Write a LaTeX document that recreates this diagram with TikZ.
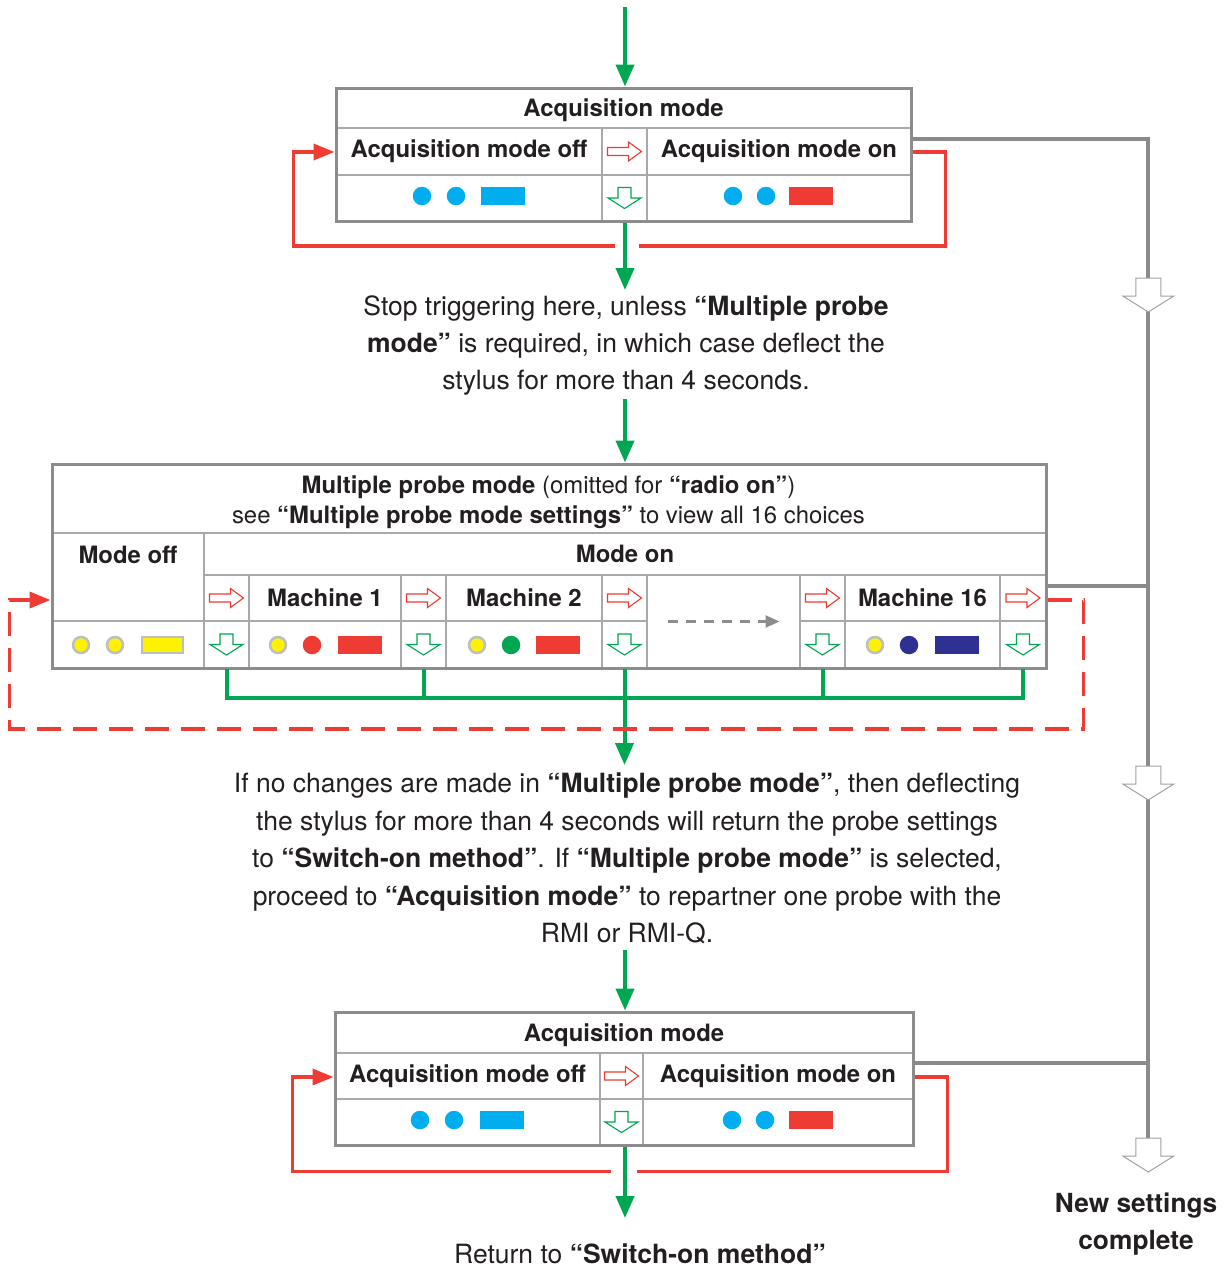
\documentclass[tikz,border=0pt]{standalone}
\usepackage{fontspec}
\setmainfont{TeX Gyre Heros}
\usetikzlibrary{arrows.meta}
\definecolor{cgreen}{HTML}{00A651}
\definecolor{cred}{HTML}{EE3B33}
\definecolor{cblue}{HTML}{00AEEF}
\definecolor{cnavy}{HTML}{2E3192}
\definecolor{cyellow}{HTML}{FFF200}
\definecolor{cframe}{HTML}{8C8C8C}
\definecolor{cgrid}{HTML}{A7A9AC}
\definecolor{croute}{HTML}{8A8A8A}
\definecolor{cring}{HTML}{BCBEC0}
\definecolor{cdash}{HTML}{8C8C8C}
\definecolor{ctext}{HTML}{231F20}
\tikzset{
  boxframe/.style={draw=cframe, line width=3pt, inner sep=0pt},
  cell/.style={draw=cgrid, line width=1.8pt, inner sep=0pt, text=ctext,
    font=\fontsize{23.9}{28}\selectfont\bfseries, text height=17pt, text depth=0pt},
  rowtwo/.style={text depth=5pt},
  hdrtext/.style={font=\fontsize{23.9}{30}\selectfont, align=center, inner sep=0pt, anchor=north, text=ctext},
  paratext/.style={font=\fontsize{26.5}{37.4}\selectfont, align=center, inner sep=0pt, text=ctext},
  gflow/.style={draw=cgreen, line width=4pt},
  gflowarrow/.style={gflow, -{Triangle[length=22pt,width=18pt]}},
  rloop/.style={draw=cred, line width=3.5pt},
  rlooparrow/.style={rloop, -{Triangle[length=21pt,width=16pt]}},
  rdash/.style={rlooparrow, dash pattern=on 24pt off 12pt},
  routeline/.style={draw=croute, line width=4pt},
  dotmark/.style={circle, inner sep=0pt, minimum size=18.5pt},
  ringdot/.style={dotmark, fill=cyellow, draw=cring, line width=2.5pt, minimum size=16pt},
  swatch/.style={inner sep=0pt, minimum width=44pt, minimum height=18pt},
  ringswatch/.style={swatch, fill=cyellow, draw=cring, line width=2.5pt, minimum width=41pt, minimum height=16pt},
  hollowR/.pic={\draw[cred, line width=1.1pt, fill=white] (-17,-4)--(4,-4)--(4,-9.5)--(17,0)--(4,9.5)--(4,4)--(-17,4)--cycle;},
  hollowD/.pic={\draw[cgreen, line width=1.1pt, fill=white] (-6.5,-10.5)--(6.5,-10.5)--(6.5,0)--(16.5,0)--(0,10.5)--(-16.5,0)--(-6.5,0)--cycle;},
  bigD/.pic={\draw[croute!80, line width=1pt, fill=white] (-12.5,0)--(12.5,0)--(12.5,18)--(25.5,18)--(0,34)--(-25.5,18)--(-12.5,18)--cycle;}
}
\begin{document}
\begin{tikzpicture}[x=1pt,y=-1pt]
\useasboundingbox (0,0) rectangle (1228,1267);

% ================= top acquisition box
\node[cell, minimum width=575pt, minimum height=40pt] (a1title) at (623.5,108) {Acquisition mode};
\node[cell, rowtwo, minimum width=266pt, minimum height=47pt] (a1off) at (469,151.5) {Acquisition mode off};
\node[cell, minimum width=45pt, minimum height=47pt] (a1ra) at (624.5,151.5) {};
\node[cell, rowtwo, minimum width=264pt, minimum height=47pt] (a1on) at (779,151.5) {Acquisition mode on};
\node[cell, minimum width=266pt, minimum height=46pt] (a1offd) at (469,198) {};
\node[cell, minimum width=45pt, minimum height=46pt] (a1da) at (624.5,198) {};
\node[cell, minimum width=264pt, minimum height=46pt] (a1ond) at (779,198) {};
\node[boxframe, minimum width=575pt, minimum height=133pt] (acq1) at (623.5,154.5) {};

% ================= multiple probe mode box
\node[cell, minimum width=994pt, minimum height=69pt] (mhead) at (549,498.5) {};
\node[hdrtext] (mheadtxt) at (548.5,475) {\textbf{Multiple probe mode} (omitted for \textbf{“radio on”})\\see \textbf{“Multiple probe mode settings”} to view all 16 choices};
\node[cell, minimum width=152pt, minimum height=88pt, text depth=44pt] (moff) at (128,577) {Mode off};
\node[cell, minimum width=842pt, minimum height=42pt] (mon) at (625,554) {Mode on};
% machine row
\node[cell, minimum width=45pt, minimum height=46pt] (r1) at (226.5,598) {};
\node[cell, minimum width=152pt, minimum height=46pt] (mc1) at (325,598) {Machine 1};
\node[cell, minimum width=45pt, minimum height=46pt] (r2) at (423.5,598) {};
\node[cell, minimum width=156pt, minimum height=46pt] (mc2) at (524,598) {Machine 2};
\node[cell, minimum width=45pt, minimum height=46pt] (r3) at (624.5,598) {};
\node[cell, minimum width=153pt, minimum height=93pt] (gap) at (723.5,621.5) {};
\node[cell, minimum width=45pt, minimum height=46pt] (r4) at (822.5,598) {};
\node[cell, minimum width=155pt, minimum height=46pt] (mc16) at (922.5,598) {Machine 16};
\node[cell, minimum width=46pt, minimum height=46pt] (r5) at (1023,598) {};
% settings row
\node[cell, minimum width=152pt, minimum height=47pt] (md0) at (128,644.5) {};
\node[cell, minimum width=45pt, minimum height=47pt] (d1) at (226.5,644.5) {};
\node[cell, minimum width=152pt, minimum height=47pt] (md1) at (325,644.5) {};
\node[cell, minimum width=45pt, minimum height=47pt] (d2) at (423.5,644.5) {};
\node[cell, minimum width=156pt, minimum height=47pt] (md2) at (524,644.5) {};
\node[cell, minimum width=45pt, minimum height=47pt] (d3) at (624.5,644.5) {};
\node[cell, minimum width=45pt, minimum height=47pt] (d4) at (822.5,644.5) {};
\node[cell, minimum width=155pt, minimum height=47pt] (md16) at (922.5,644.5) {};
\node[cell, minimum width=46pt, minimum height=47pt] (d5) at (1023,644.5) {};
\node[boxframe, minimum width=994pt, minimum height=204pt] (mid) at (549,566) {};

% ================= bottom acquisition box
\node[cell, minimum width=578pt, minimum height=41pt] (b1title) at (624,1032.5) {Acquisition mode};
\node[cell, rowtwo, minimum width=265pt, minimum height=46pt] (b1off) at (467.5,1076) {Acquisition mode off};
\node[cell, minimum width=43pt, minimum height=46pt] (b1ra) at (621.5,1076) {};
\node[cell, rowtwo, minimum width=270pt, minimum height=46pt] (b1on) at (778,1076) {Acquisition mode on};
\node[cell, minimum width=265pt, minimum height=46pt] (b1offd) at (467.5,1122) {};
\node[cell, minimum width=43pt, minimum height=46pt] (b1da) at (621.5,1122) {};
\node[cell, minimum width=270pt, minimum height=46pt] (b1ond) at (778,1122) {};
\node[boxframe, minimum width=578pt, minimum height=133pt] (acqB) at (624,1078.5) {};

% ================= texts
\node[paratext, anchor=north] (note1) at (626,295) {Stop triggering here, unless \textbf{“Multiple probe}\\\textbf{mode”} is required, in which case deflect the\\stylus for more than 4 seconds.};
\node[paratext, anchor=north] (note2) at (627,773) {If no changes are made in \textbf{“Multiple probe mode”}, then deflecting\\the stylus for more than 4 seconds will return the probe settings\\to \textbf{“Switch-on method”}. If \textbf{“Multiple probe mode”} is selected,\\proceed to \textbf{“Acquisition mode”} to repartner one probe with the\\RMI or RMI-Q.};
\node[paratext, anchor=base] (retText) at (640,1263) {Return to \textbf{“Switch-on method”}};
\node[paratext, font=\fontsize{26.3}{37}\selectfont\bfseries, anchor=north] (newSet) at (1136,1192.5) {New settings\\complete};

% ================= setting indicators
\node[dotmark, fill=cblue] (ta1) at (422,196) {};
\node[dotmark, fill=cblue] (ta2) at (456,196) {};
\node[swatch, fill=cblue] (ta3) at (503,196) {};
\node[dotmark, fill=cblue] (tb1) at (733,196) {};
\node[dotmark, fill=cblue] (tb2) at (766,196) {};
\node[swatch, fill=cred] (tb3) at (811,196) {};

\node[ringdot] (m01) at (81,645) {};
\node[ringdot] (m02) at (115,645) {};
\node[ringswatch] (m03) at (162.5,645) {};
\node[ringdot] (m11) at (278,645) {};
\node[dotmark, fill=cred] (m12) at (312,645) {};
\node[swatch, fill=cred] (m13) at (359.5,645) {};
\node[ringdot] (m21) at (477,645) {};
\node[dotmark, fill=cgreen] (m22) at (511,645) {};
\node[swatch, fill=cred] (m23) at (558,645) {};
\node[ringdot] (m161) at (875,645) {};
\node[dotmark, fill=cnavy] (m162) at (909,645) {};
\node[swatch, fill=cnavy] (m163) at (957,645) {};

\node[dotmark, fill=cblue] (ba1) at (420,1120) {};
\node[dotmark, fill=cblue] (ba2) at (454,1120) {};
\node[swatch, fill=cblue] (ba3) at (501.5,1120) {};
\node[dotmark, fill=cblue] (bb1) at (732,1120) {};
\node[dotmark, fill=cblue] (bb2) at (765,1120) {};
\node[swatch, fill=cred] (bb3) at (810.5,1120) {};

% ================= hollow arrows in cells
\pic at (a1ra) {hollowR};
\pic at (a1da) {hollowD};
\pic at (r1) {hollowR};
\pic at (r2) {hollowR};
\pic at (r3) {hollowR};
\pic at (r4) {hollowR};
\pic at (r5) {hollowR};
\pic at (d1) {hollowD};
\pic at (d2) {hollowD};
\pic at (d3) {hollowD};
\pic at (d4) {hollowD};
\pic at (d5) {hollowD};
\pic at (b1ra) {hollowR};
\pic at (b1da) {hollowD};
\draw[draw=cdash, line width=2.5pt, dash pattern=on 10pt off 8pt, -{Triangle[length=14pt,width=12pt]}] ([xshift=-56pt]gap.center) -- ([xshift=56pt]gap.center);

% ================= green flow
\coordinate (topStart) at (625,7);
\coordinate (bus) at (625,698);
\coordinate (retArrow) at (625,1218);
\draw[gflowarrow] (topStart) -- (topStart |- acq1.north);
\draw[gflowarrow, shorten >=5pt] (topStart |- acq1.south) -- (topStart |- note1.north);
\draw[gflowarrow, shorten <=3pt] (topStart |- note1.south) -- (topStart |- mid.north);
\draw[gflow] (d1.south) -- (d1.south |- bus) -- (d5.south |- bus) -- (d5.south);
\draw[gflow] (d2.south) -- (d2.south |- bus);
\draw[gflow] (d4.south) -- (d4.south |- bus);
\draw[gflowarrow, shorten >=8pt] (d3.south) -- (d3.south |- note2.north);
\draw[gflowarrow, shorten <=6pt] (topStart |- note2.south) -- (topStart |- acqB.north);
\draw[gflowarrow] (topStart |- acqB.south) -- (retArrow);

% ================= red loops
\coordinate (gapR1) at (639,246);
\coordinate (gapL1) at (615,246);
\draw[rloop] ([yshift=2.5pt]acq1.east) -- ++(33,0) |- (gapR1);
\draw[rlooparrow] (gapL1) -| ([xshift=-41pt,yshift=2.5pt]acq1.west) -- ([yshift=2.5pt]acq1.west);

\draw[rdash] ([yshift=-34pt]mid.east) -- ++(36,0) -- ++(0,129) -| ([xshift=-41pt,yshift=-34pt]mid.west) -- ([yshift=-34pt]mid.west);

\coordinate (gapR3) at (637,1171.5);
\coordinate (gapL3) at (611,1171.5);
\draw[rloop] ([yshift=1.5pt]acqB.east) -- ++(33,0) |- (gapR3);
\draw[rlooparrow] (gapL3) -| ([xshift=-41pt,yshift=1.5pt]acqB.west) -- ([yshift=1.5pt]acqB.west);

% ================= grey route to "New settings complete"
\coordinate (routeEnd) at (1148.3,1140);
\coordinate (j2) at (1148.3,586);
\coordinate (j3) at (1148.3,1063);
\draw[routeline] ([yshift=15.5pt]acq1.east) -| (routeEnd);
\draw[routeline] ([yshift=-20pt]mid.east) -- (j2);
\draw[routeline] ([yshift=15.5pt]acqB.east) -- (j3);
\pic at (1148.3,278) {bigD};
\pic at (1148.3,766) {bigD};
\pic at (1148.3,1138) {bigD};
\end{tikzpicture}
\end{document}
